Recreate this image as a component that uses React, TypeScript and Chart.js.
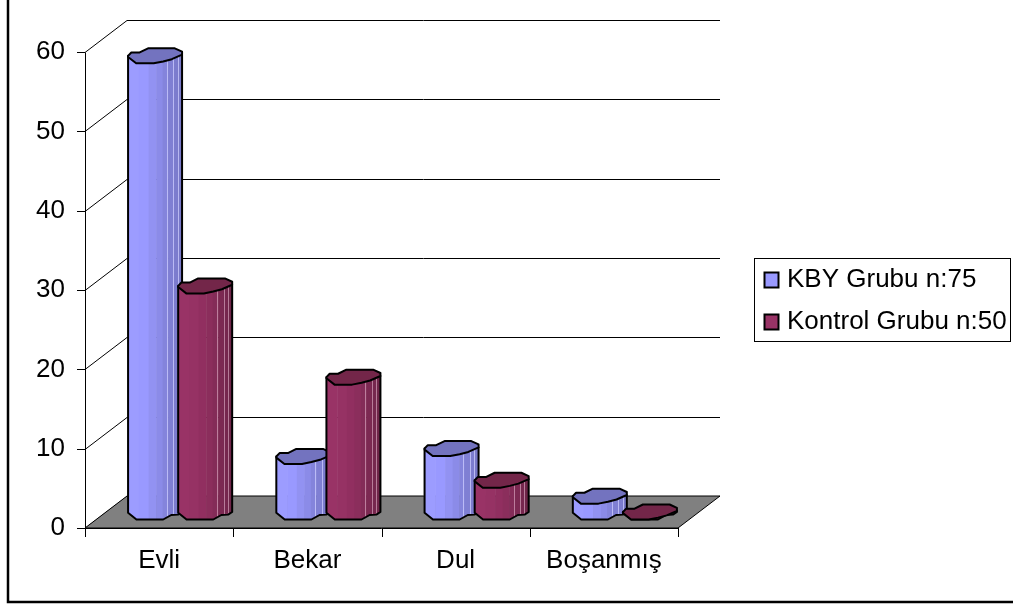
import React, { useEffect, useRef } from "react";
import { Chart, registerables } from "chart.js";

Chart.register(...registerables);

const categories = ["Evli", "Bekar", "Dul", "Boşanmış"];
const kbyValues = [57.5, 7, 8, 2];
const kontrolValues = [28.5, 17, 4, 0];
const yTicks = [0, 10, 20, 30, 40, 50, 60];
const seriesNames = ["KBY Grubu n:75", "Kontrol Grubu n:50"];

const FONT = '"Liberation Sans", Arial, sans-serif';
const DEPTH_X = 42;
const DEPTH_Y = 32;

// Outline of a column cross-section, in unit coordinates around its centre.
const capOutline: [number, number][] = [
  [-1, 0], [-0.88, -0.45], [-0.57, -0.45], [-0.26, -1], [0.73, -1], [1, -0.55],
  [1, -0.15], [0.62, 0.45], [0.3, 0.75], [-0.05, 1], [-0.7, 1], [-1, 0.15],
];
// Lower edge of a column body, from right edge to left edge.
const baseOutline: [number, number][] = [
  [1, 0], [0.85, 0.35], [0.6, 0.4], [0.3, 1], [-0.69, 1], [-1, 0.1],
];

// Facet shades running left to right across a column body, with light seams.
const bodyShades = [
  ["#9c9cff", "#9999ff", "#9292f2", "#8b8be8", "#8484dc", "#7f7fd3", "#7c7cce", "#7878c8"],
  ["#993366", "#963264", "#912f60", "#8b2e5c", "#842c58", "#7c2952", "#76274e", "#6f2549"],
];
const facetStops = [0, 0.2, 0.38, 0.52, 0.64, 0.74, 0.84, 0.92, 1];
const seamStops = [0.72, 0.84, 0.92];
const seamColors = ["rgba(205,205,255,0.75)", "rgba(220,170,195,0.65)"];
const capColors = ["#7373bf", "#732649"];

const column3d = {
  id: "column3d",
  beforeDatasetsDraw(chart: any) {
    const { ctx, scales } = chart;
    const x = scales.x;
    const y = scales.y;
    const y0 = y.getPixelForValue(0);
    const left = x.left;
    const right = x.right;
    ctx.save();
    ctx.strokeStyle = "#000";
    ctx.lineWidth = 1;
    const tickY = (v: number) => Math.round(y.getPixelForValue(v)) + 0.5;

    // Back wall gridlines and the diagonals down to the value axis.
    yTicks.forEach((v) => {
      const py = tickY(v);
      ctx.beginPath();
      ctx.moveTo(left - 8, py);
      ctx.lineTo(left, py);
      ctx.lineTo(left + DEPTH_X, py - DEPTH_Y);
      ctx.lineTo(right + DEPTH_X, py - DEPTH_Y);
      ctx.stroke();
    });

    // Floor.
    ctx.fillStyle = "#808080";
    ctx.beginPath();
    ctx.moveTo(left, y0);
    ctx.lineTo(right, y0);
    ctx.lineTo(right + DEPTH_X, y0 - DEPTH_Y);
    ctx.lineTo(left + DEPTH_X, y0 - DEPTH_Y);
    ctx.closePath();
    ctx.fill();
    ctx.stroke();

    // Value axis.
    ctx.beginPath();
    ctx.moveTo(left + 0.5, tickY(60));
    ctx.lineTo(left + 0.5, y0);
    ctx.stroke();

    // Category axis with ticks between groups.
    ctx.beginPath();
    ctx.moveTo(left, Math.round(y0) + 0.5);
    ctx.lineTo(right, Math.round(y0) + 0.5);
    for (let i = 0; i <= categories.length; i++) {
      const tx = Math.round(left + ((right - left) * i) / categories.length) + 0.5;
      ctx.moveTo(tx, y0);
      ctx.lineTo(tx, y0 + 9);
    }
    ctx.stroke();
    ctx.restore();
  },
  afterDatasetsDraw(chart: any) {
    const { ctx } = chart;
    categories.forEach((_, c) => {
      [0, 1].forEach((s) => {
        const el = chart.getDatasetMeta(s).data[c];
        drawColumn(ctx, el.x + DEPTH_X / 2, el.y - DEPTH_Y / 2, el.base - DEPTH_Y / 2, s);
      });
    });
  },
};

function drawColumn(ctx: any, cx: number, top: number, base: number, s: number) {
  const hw = 27;
  const hh = 7.5;
  const px = (u: number) => cx + u * hw;
  const py = (v: number, at: number) => at + v * hh;

  ctx.save();
  // Body silhouette: cap's right edge, down to the base outline, and back up.
  const body = new Path2D();
  body.moveTo(px(1), py(-0.15, top));
  baseOutline.forEach(([u, v]) => body.lineTo(px(u), py(v, base)));
  body.lineTo(px(-1), py(0, top));
  body.closePath();

  ctx.save();
  ctx.clip(body);
  bodyShades[s].forEach((shade, i) => {
    ctx.fillStyle = shade;
    const a = px(facetStops[i] * 2 - 1);
    const b = px(facetStops[i + 1] * 2 - 1);
    ctx.fillRect(a, top - hh, b - a + 0.5, base - top + 2 * hh);
  });
  ctx.fillStyle = seamColors[s];
  seamStops.forEach((t) => {
    ctx.fillRect(Math.round(px(t * 2 - 1)), top - hh, 1, base - top + 2 * hh);
  });
  ctx.restore();

  ctx.lineWidth = 2;
  ctx.lineJoin = "round";
  ctx.strokeStyle = "#000";
  ctx.stroke(body);

  // Cap.
  ctx.beginPath();
  capOutline.forEach(([u, v], i) => {
    if (i === 0) ctx.moveTo(px(u), py(v, top));
    else ctx.lineTo(px(u), py(v, top));
  });
  ctx.closePath();
  ctx.fillStyle = capColors[s];
  ctx.fill();
  ctx.stroke();
  ctx.restore();
}

// Page frame and legend box around the plot.
const frame = {
  id: "frame",
  beforeDraw(chart: any) {
    const { ctx } = chart;
    ctx.save();
    ctx.strokeStyle = "#000";
    ctx.lineWidth = 2.5;
    ctx.strokeRect(8, -10, 1030, 612);
    ctx.restore();
  },
  afterDraw(chart: any) {
    const { ctx } = chart;
    ctx.save();
    ctx.fillStyle = "#fff";
    ctx.strokeStyle = "#000";
    ctx.lineWidth = 1;
    ctx.fillRect(754.5, 258.5, 256, 83);
    ctx.strokeRect(754.5, 258.5, 256, 83);
    const rows = [279, 321];
    const fills = ["#9999ff", "#993366"];
    ctx.textBaseline = "middle";
    ctx.textAlign = "left";
    ctx.font = `26px ${FONT}`;
    rows.forEach((ry, i) => {
      ctx.fillStyle = fills[i];
      ctx.fillRect(764.5, ry - 6.5, 14, 15);
      ctx.lineWidth = 2;
      ctx.strokeRect(764.5, ry - 6.5, 14, 15);
      ctx.fillStyle = "#000";
      ctx.fillText(seriesNames[i], 787, ry + 1);
    });
    ctx.restore();
  },
};

export default function App() {
  const ref = useRef<HTMLCanvasElement>(null);
  useEffect(() => {
    document.body.style.margin = "0";
    document.body.style.background = "#fff";
    const chart = new Chart(ref.current!, {
      type: "bar",
      data: {
        labels: categories,
        datasets: [
          { label: seriesNames[0], data: kbyValues, backgroundColor: "rgba(0,0,0,0)" },
          { label: seriesNames[1], data: kontrolValues, backgroundColor: "rgba(0,0,0,0)" },
        ],
      },
      options: {
        responsive: false,
        animation: false,
        layout: { padding: { top: 52, right: 335, left: 0, bottom: 0 } },
        datasets: { bar: { categoryPercentage: 0.676, barPercentage: 1 } },
        plugins: { legend: { display: false }, tooltip: { enabled: false } },
        scales: {
          x: {
            position: "bottom",
            grid: { display: false },
            border: { display: false },
            ticks: {
              color: "#000",
              font: { family: FONT, size: 26 },
              padding: 9,
              maxRotation: 0,
              autoSkip: false,
            },
            afterFit(scale: any) {
              scale.height = 76;
            },
          },
          y: {
            min: 0,
            max: 60,
            grid: { display: false },
            border: { display: false },
            ticks: {
              color: "#000",
              stepSize: 10,
              font: { family: FONT, size: 26 },
              padding: 12,
            },
            afterFit(scale: any) {
              scale.width = 85;
            },
          },
        },
      } as any,
      plugins: [frame, column3d],
    });
    return () => chart.destroy();
  }, []);
  return (
    <canvas
      ref={ref}
      width={1013}
      height={604}
      style={{ display: "block", position: "fixed", left: 0, top: 0 }}
    />
  );
}
